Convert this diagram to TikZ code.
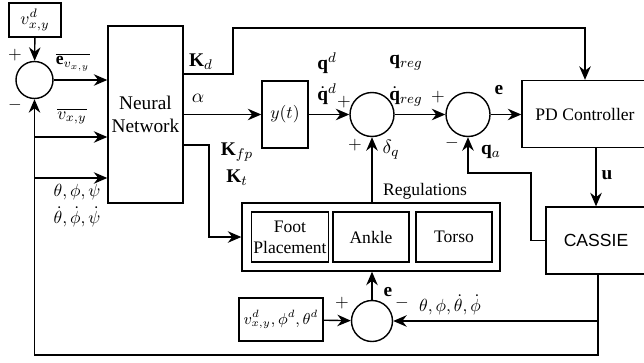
\documentclass[tikz,border=0pt]{standalone}
\usepackage{fontspec}
\setmainfont{Liberation Serif}
\newfontfamily\cassiefont{Liberation Sans}
\usetikzlibrary{arrows.meta}
\begin{document}
\begin{tikzpicture}[
  x=0.02cm, y=-0.02cm, thick,
  block/.style={rectangle, draw, align=center, inner sep=1pt},
  summ/.style={circle, draw, inner sep=0pt},
  lbl/.style={font=\fontsize{11}{13}\selectfont},
  arrow/.style={-{Stealth[length=2.7mm, width=2.3mm]}}
]
  \useasboundingbox (0,0) rectangle (644,362);
  \node[block, minimum width=1.04cm, minimum height=0.68cm] (vd) at (35,20) {$v_{x,y}^d$};
  \node[summ, minimum size=0.74cm] (s1) at (34.5,80) {};
  \node[block, lbl, minimum width=1.5cm, minimum height=3.54cm] (nn) at (145.5,114.5) {Neural\\Network};
  \node[block, minimum width=0.92cm, minimum height=1.34cm] (yt) at (285,114.5) {$y(t)$};
  \node[summ, minimum size=0.88cm] (s2) at (372,114.5) {};
  \node[summ, minimum size=0.88cm] (s3) at (468,114.5) {};
  \node[block, minimum width=2.52cm, minimum height=1.34cm] (pd) at (585,114) {PD Controller};
  \node[block, minimum width=2.0cm, minimum height=1.34cm, font=\cassiefont] (cassie) at (596,240.5) {CASSIE};
  \node[block, minimum width=5.16cm, minimum height=1.36cm] (reg) at (371,237) {};
  \node[block, minimum width=1.52cm, minimum height=1.0cm] (fp) at (290,237) {Foot\\Placement};
  \node[block, minimum width=1.52cm, minimum height=1.0cm] (ank) at (371,237) {Ankle};
  \node[block, minimum width=1.52cm, minimum height=1.0cm] (tor) at (454,237) {Torso};
  \node[block, minimum width=1.68cm, minimum height=0.86cm, font=\small] (vdd) at (281,319.5) {$v_{x,y}^d,\phi^d,\theta^d$};
  \node[summ, minimum size=0.82cm] (s4) at (372,321) {};

  \coordinate (kdturn) at (233,28);
  \coordinate (kfpturn) at (209,145);
  \coordinate (qaturn) at (531,173);
  \coordinate (fbcorner) at (34.5,355);

  \draw[arrow] (vd) -- (s1);
  \draw[arrow] (s1) -- (s1 -| nn.west);
  \draw[arrow] (nn.east |- 0,74) -| (kdturn) -| (pd.north);
  \draw[arrow] (nn.east |- yt.west) -- (yt.west);
  \draw[arrow] (yt) -- (s2);
  \draw[arrow] (s2) -- (s3);
  \draw[arrow] (s3) -- (s3 -| pd.west);
  \draw[arrow] (cassie.north |- pd.south) -- (cassie.north);
  \draw[arrow] (cassie.west) -| (qaturn) -| (s3.south);
  \draw[arrow] (nn.east |- kfpturn) -- (kfpturn) |- (reg.west);
  \draw[arrow] (s2.south |- reg.north) -- (s2.south);
  \draw[arrow] (vdd) -- (s4);
  \draw[arrow] (s4.north) -- (s4.north |- reg.south);
  \draw[arrow] (cassie.south -| 598,0) |- (fbcorner) -- (s1.south);
  \draw[arrow] (598,321) -- (s4.east);
  \draw[arrow] (s1.south |- 0,137) -- (nn.west |- 0,137);
  \draw[arrow] (s1.south |- 0,178) -- (nn.west |- 0,178);

  \node at (15,55) {$+$};
  \node at (15,105) {$-$};
  \node at (73,62) {$\overline{\mathbf{e}_{v_{x,y}}}$};
  \node at (72,116) {$\overline{v_{x,y}}$};
  \node at (77,192) {$\theta,\phi,\psi$};
  \node at (77,217) {$\dot\theta,\dot\phi,\dot\psi$};
  \node[lbl] at (201,62) {$\mathbf{K}_d$};
  \node[lbl] at (198,98) {$\alpha$};
  \node[lbl] at (237,152) {$\mathbf{K}_{fp}$};
  \node[lbl] at (237,178) {$\mathbf{K}_t$};
  \node[lbl] at (327,63) {$\mathbf{q}^d$};
  \node[lbl] at (327,94) {$\dot{\mathbf{q}}^d$};
  \node at (344,102) {$+$};
  \node[lbl] at (406,63) {$\mathbf{q}_{reg}$};
  \node[lbl] at (406,96) {$\dot{\mathbf{q}}_{reg}$};
  \node at (438,97) {$+$};
  \node[lbl] at (499,90) {$\mathbf{e}$};
  \node at (452,143) {$-$};
  \node[lbl] at (491,152) {$\mathbf{q}_a$};
  \node at (355,145) {$+$};
  \node[lbl] at (391,150) {$\delta_q$};
  \node at (425,191) {Regulations};
  \node[lbl] at (607,175) {$\mathbf{u}$};
  \node[lbl] at (388,292) {$\mathbf{e}$};
  \node at (342,303) {$+$};
  \node at (402,303) {$-$};
  \node at (450,305) {$\theta,\phi,\dot\theta,\dot\phi$};
\end{tikzpicture}
\end{document}
